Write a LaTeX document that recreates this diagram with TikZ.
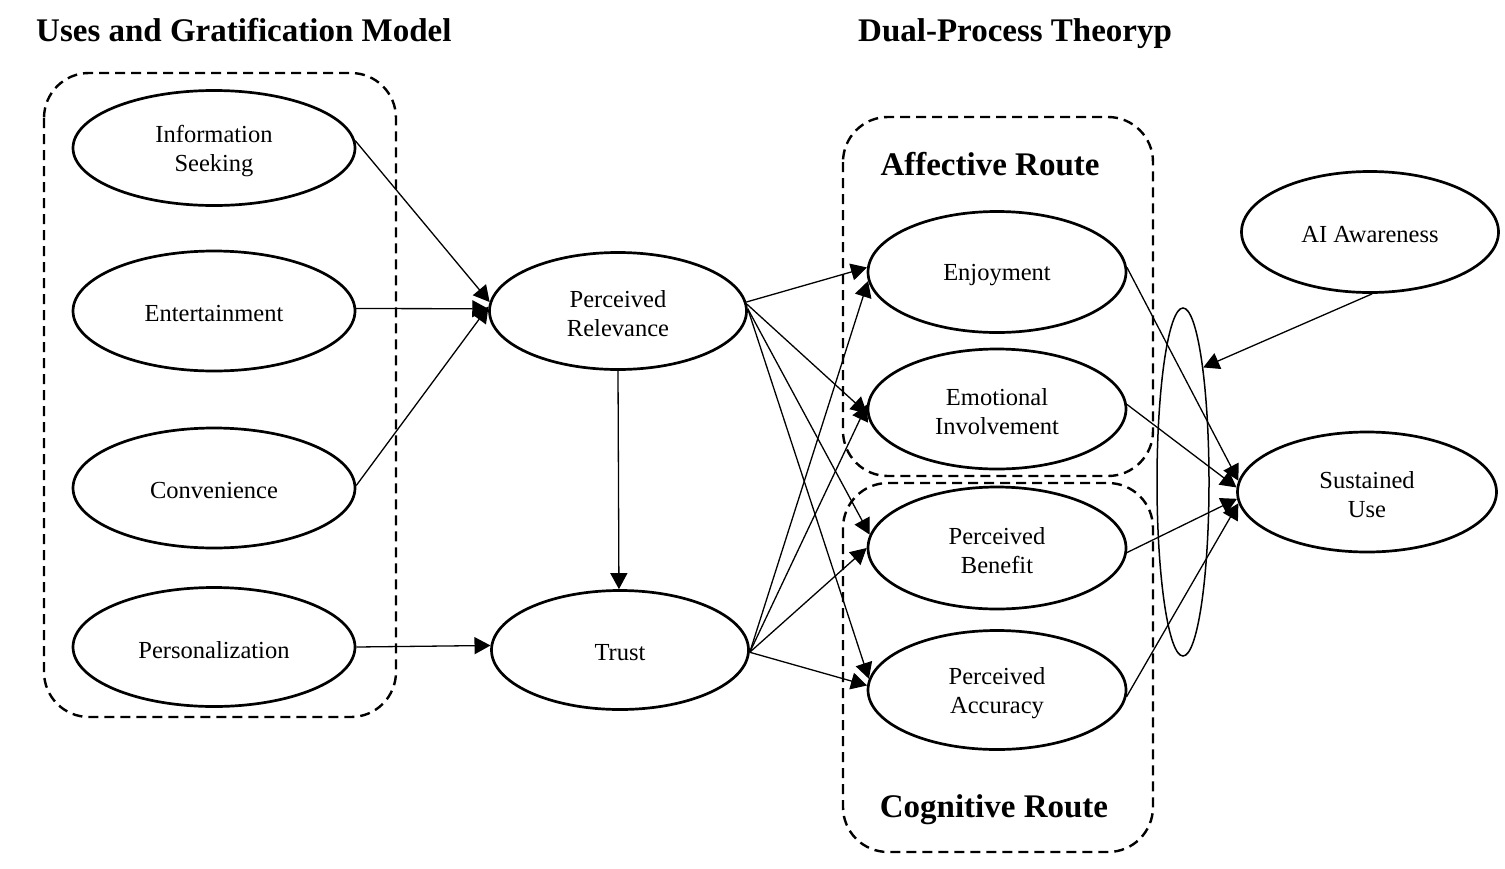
\documentclass[tikz,border=0pt]{standalone}
\usepackage{fontspec}
\setmainfont{Liberation Serif}
\usetikzlibrary{shapes.geometric,arrows.meta}
\begin{document}
\begin{tikzpicture}[x=1pt,y=-1pt,
  oval/.style={ellipse,draw,line width=2.7pt,inner sep=0pt},
  ovaltext/.style={align=center,inner sep=0pt,yshift=-3pt,
    font=\fontsize{24.5}{29}\selectfont},
  lbox/.style={draw,line width=2.4pt,dash pattern=on 10pt off 6pt,rounded corners=45pt},
  ttl/.style={font=\fontsize{33}{38}\selectfont\bfseries,inner sep=0pt},
  conn/.style={line width=1.3pt,-{Triangle[length=16pt,width=17pt]}}]
\useasboundingbox (0,0) rectangle (1505,868);
% titles
\node[ttl,anchor=base west] (t1) at (36,41) {Uses and Gratification Model};
\node[ttl,anchor=base west] (t2) at (858,41) {Dual-Process Theoryp};
\node[ttl,anchor=base] (t3) at (990,175) {Affective Route};
\node[ttl,anchor=base] (t4) at (994,817) {Cognitive Route};
% dashed boxes
\draw[lbox] (44,73) rectangle (396,717);
\draw[lbox] (843,117) rectangle (1153,476);
\draw[lbox] (843,483) rectangle (1153,852);
% left ellipses
\node[oval,minimum width=282pt,minimum height=115pt,label={[ovaltext]center:Information\\Seeking}] (info) at (214,148) {};
\node[oval,minimum width=282pt,minimum height=120pt,label={[ovaltext]center:Entertainment}] (ent) at (214,311) {};
\node[oval,minimum width=282pt,minimum height=120pt,label={[ovaltext]center:Convenience}] (conv) at (214,488) {};
\node[oval,minimum width=282pt,minimum height=119pt,label={[ovaltext]center:Personalization}] (pers) at (214,647) {};
% middle
\node[oval,minimum width=257pt,minimum height=117pt,label={[ovaltext]center:Perceived\\Relevance}] (pr) at (618,311) {};
\node[oval,minimum width=257pt,minimum height=119pt,label={[ovaltext]center:Trust}] (trust) at (620,650) {};
% right
\node[oval,minimum width=258pt,minimum height=121pt,label={[ovaltext]center:Enjoyment}] (enj) at (997,272) {};
\node[oval,minimum width=258pt,minimum height=120pt,label={[ovaltext]center:Emotional\\Involvement}] (ei) at (997,409) {};
\node[oval,minimum width=258pt,minimum height=122pt,label={[ovaltext]center:Perceived\\Benefit}] (pb) at (997,548) {};
\node[oval,minimum width=258pt,minimum height=119pt,label={[ovaltext]center:Perceived\\Accuracy}] (pa) at (997,690) {};
\node[oval,minimum width=257pt,minimum height=121pt,label={[ovaltext]center:AI Awareness}] (ai) at (1370,232) {};
\node[oval,minimum width=259pt,minimum height=120pt,label={[ovaltext]center:Sustained\\Use}] (su) at (1367,492) {};
\node[ellipse,draw,line width=1.5pt,minimum width=52pt,minimum height=348pt,inner sep=0pt] (thin) at (1183,482) {};
% connectors
\draw[conn] (info.3) -- (pr.176);
\draw[conn] (ent.1) -- (pr.179);
\draw[conn] (conv.1) -- (pr.178);
\draw[conn] (pers.east) -- (trust.178.5);
\draw[conn] (pr.south) -- (trust.91);
\draw[conn] (pr.4) -- (enj.178);
\draw[conn] (pr.3) -- (ei.182);
\draw[conn] (pr.1) -- (pb.174);
\draw[conn] (pr.1) -- (pa.175);
\draw[conn] (trust.-1) -- (enj.184);
\draw[conn] (trust.-1) -- (ei.178);
\draw[conn] (trust.-1) -- (pb.180);
\draw[conn] (trust.-1) -- (pa.178);
\draw[conn] (enj.2) -- (su.175);
\draw[conn] (ei.2) -- (su.178);
\draw[conn] (pb.-2) -- (su.183);
\draw[conn] (pa.-3) -- (su.185);
\draw[conn] (ai.-88) -- (thin.80);
\end{tikzpicture}
\end{document}
